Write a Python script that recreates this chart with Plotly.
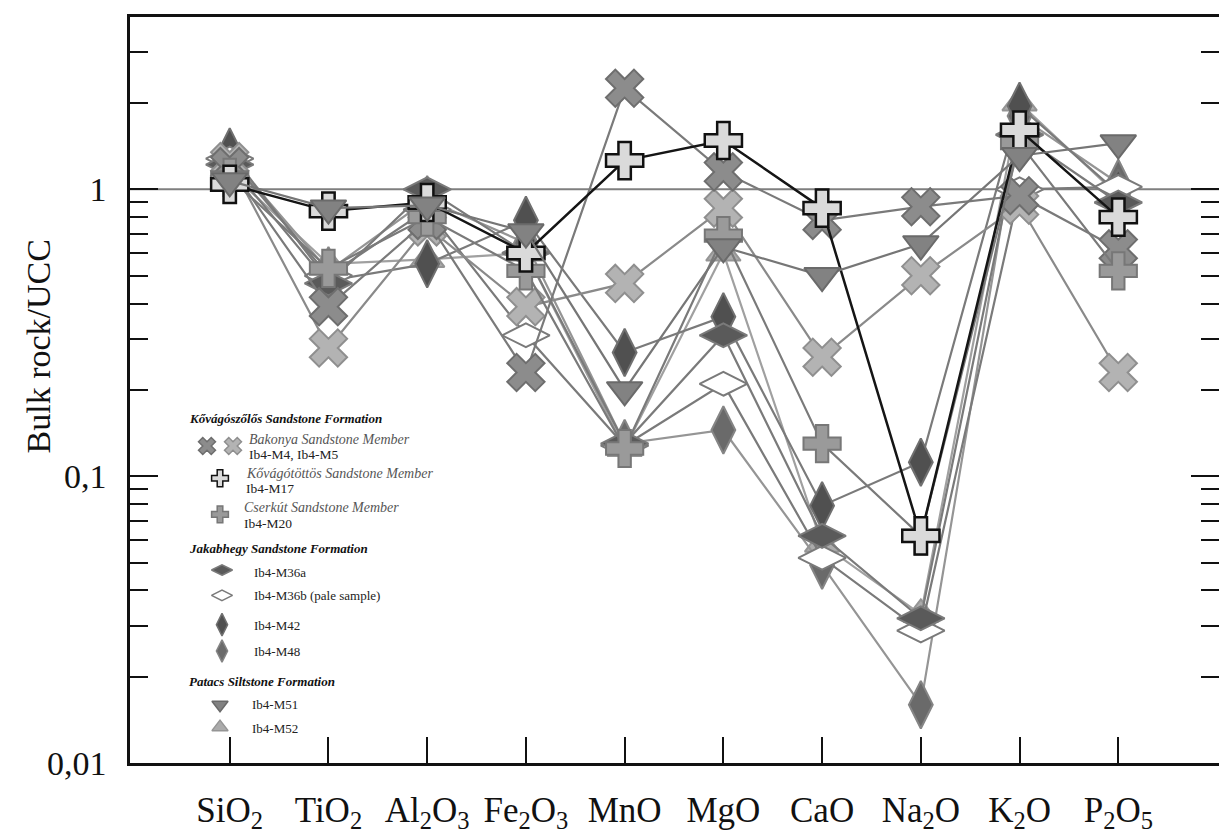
import math
import plotly.graph_objects as go

# ---------------- data ----------------
elements = ["SiO2", "TiO2", "Al2O3", "Fe2O3", "MnO", "MgO", "CaO", "Na2O", "K2O", "P2O5"]
element_labels = ["SiO<sub>2</sub>", "TiO<sub>2</sub>", "Al<sub>2</sub>O<sub>3</sub>",
                  "Fe<sub>2</sub>O<sub>3</sub>", "MnO", "MgO", "CaO",
                  "Na<sub>2</sub>O", "K<sub>2</sub>O", "P<sub>2</sub>O<sub>5</sub>"]

ib4_m4 = [1.20, 0.39, 0.78, 0.23, 2.25, 1.15, 0.78, 0.87, 0.95, 0.62]
ib4_m5 = [1.25, 0.28, 0.74, 0.39, 0.47, 0.86, 0.26, 0.50, 0.88, 0.23]
ib4_m17 = [1.04, 0.84, 0.90, 0.60, 1.26, 1.48, 0.86, 0.062, 1.61, 0.80]
ib4_m20 = [1.10, 0.53, 0.80, 0.52, 0.125, 0.69, 0.13, 0.062, 1.45, 0.52]
ib4_m36a = [1.22, 0.47, 1.00, 0.60, 0.13, 0.31, 0.062, 0.032, 1.55, 0.90]
ib4_m36b = [1.28, 0.50, 0.85, 0.31, 0.128, 0.21, 0.052, 0.029, 1.00, 1.02]
ib4_m42 = [1.35, 0.48, 0.55, 0.78, 0.27, 0.36, 0.079, 0.112, 1.95, 0.97]
ib4_m48 = [1.30, 0.52, 0.92, 0.65, 0.13, 0.145, 0.049, 0.016, 1.80, 1.05]
ib4_m51 = [1.07, 0.86, 0.88, 0.71, 0.20, 0.63, 0.50, 0.645, 1.31, 1.45]
ib4_m52 = [1.15, 0.55, 0.57, 0.60, 0.125, 0.60, 0.058, 0.033, 2.00, 0.95]

y_tickvals = [0.01, 0.1, 1, 4]
y_ticktext = ["0,01", "0,1", "1", "4"]
y_minor = [0.02, 0.03, 0.04, 0.05, 0.06, 0.07, 0.08, 0.09,
           0.2, 0.3, 0.4, 0.5, 0.6, 0.7, 0.8, 0.9, 2, 3]

# ---------------- styles ----------------
FONT = "Liberation Serif"
W, H = 1219, 834
PL, PR, PT, PB = 130, 1219, 17, 782

styles = {
    "M4":  dict(y=ib4_m4,  symbol="x", size=33, fill="#8c8c8c", edge="#6e6e6e", line="#7a7a7a", lw=2.2),
    "M5":  dict(y=ib4_m5,  symbol="x", size=33, fill="#b3b3b3", edge="#8f8f8f", line="#8a8a8a", lw=2.2),
    "M52": dict(y=ib4_m52, symbol="triangle-up", size=30, fill="#ababab", edge="#959595", line="#a0a0a0", lw=2.2),
    "M48": dict(y=ib4_m48, symbol="diamond-tall", size=34, fill="#6a6a6a", edge="#858585", line="#959595", lw=2.2),
    "M42": dict(y=ib4_m42, symbol="diamond-tall", size=34, fill="#505050", edge="#707070", line="#7a7a7a", lw=2.2),
    "M36b": dict(y=ib4_m36b, symbol="diamond-wide", size=34, fill="#ffffff", edge="#7a7a7a", line="#7a7a7a", lw=2.2),
    "M36a": dict(y=ib4_m36a, symbol="diamond-wide", size=34, fill="#5a5a5a", edge="#7a7a7a", line="#7a7a7a", lw=2.2),
    "M20": dict(y=ib4_m20, symbol="cross", size=31, fill="#9a9a9a", edge="#777777", line="#7a7a7a", lw=2.2),
    "M17": dict(y=ib4_m17, symbol="cross", size=31, fill="#dadada", edge="#111111", line="#151515", lw=2.5),
    "M51": dict(y=ib4_m51, symbol="triangle-down", size=31, fill="#828282", edge="#6a6a6a", line="#767676", lw=2.2),
}
order = ["M52", "M48", "M42", "M36b", "M36a", "M5", "M4", "M20", "M17", "M51"]

fig = go.Figure()
for key in order:
    s = styles[key]
    fig.add_trace(go.Scatter(
        x=elements, y=s["y"], mode="lines+markers", name="Ib4-" + key,
        line=dict(color=s["line"], width=s["lw"]),
        marker=dict(symbol=s["symbol"], size=s["size"], color=s["fill"],
                    line=dict(color=s["edge"], width=2.5 if key == "M17" else 2)),
        showlegend=False, xaxis="x", yaxis="y"))

# empty trace for the mirrored right-hand tick axis
fig.add_trace(go.Scatter(x=[], y=[], xaxis="x", yaxis="y3", showlegend=False))

# ---------------- custom legend (pixel overlay axes) ----------------
leg_marks = [
    ("M4", 207, 457, 15), ("M5", 233, 457, 15),
    ("M17", 220, 490, 14), ("M20", 220, 527, 14),
    ("M36a", 222, 584, 15), ("M36b", 222, 610, 15),
    ("M42", 222, 640, 16), ("M48", 222, 667, 16),
    ("M51", 220, 722, 14), ("M52", 220, 745, 14),
]
for key, px, py, sz in leg_marks:
    s = styles[key]
    fig.add_trace(go.Scatter(
        x=[px], y=[py], mode="markers", xaxis="x2", yaxis="y2", showlegend=False,
        marker=dict(symbol=s["symbol"], size=sz, color=s["fill"],
                    line=dict(color=s["edge"], width=1.5)), hoverinfo="skip"))

leg_texts = [
    (187, 429, "<b><i>Kővágószőlős Sandstone Formation</i></b>", 13, "#111"),
    (247, 450, "<i>Bakonya Sandstone Member</i>", 14, "#555"),
    (247, 466, "Ib4-M4, Ib4-M5", 13.5, "#222"),
    (244, 485, "<i>Kővágótöttös Sandstone Member</i>", 14, "#555"),
    (244, 501, "Ib4-M17", 13.5, "#222"),
    (242, 520, "<i>Cserkút Sandstone Member</i>", 14, "#555"),
    (242, 536, "Ib4-M20", 13.5, "#222"),
    (187, 562, "<b><i>Jakabhegy Sandstone Formation</i></b>", 13, "#111"),
    (252, 587, "Ib4-M36a", 13, "#222"),
    (252, 610, "Ib4-M36b (pale sample)", 13, "#222"),
    (252, 641, "Ib4-M42", 13, "#222"),
    (252, 668, "Ib4-M48", 13, "#222"),
    (187, 698, "<b><i>Patacs Siltstone Formation</i></b>", 13, "#111"),
    (250, 722, "Ib4-M51", 13, "#222"),
    (250, 746, "Ib4-M52", 13, "#222"),
]
annotations = []
for px, py, txt, fs, col in leg_texts:
    annotations.append(dict(x=px, y=py, xref="x2", yref="y2", text=txt, showarrow=False,
                            xanchor="left", yanchor="middle",
                            font=dict(family=FONT, size=fs, color=col)))
annotations.append(dict(x=38, y=355, xref="x2", yref="y2", text="Bulk rock/UCC",
                        showarrow=False, textangle=-90, xanchor="center", yanchor="middle",
                        font=dict(family=FONT, size=34, color="#111")))

# ---------------- layout ----------------
xd = [PL / W, PR / W]
yd = [(H - PB) / H, (H - PT) / H]
yrange = [-2, math.log10(4)]

minor_cfg = dict(tickvals=y_minor, ticks="inside", ticklen=18, tickwidth=2, tickcolor="#111")

fig.update_layout(
    width=W, height=H, margin=dict(l=0, r=0, t=0, b=0),
    paper_bgcolor="white", plot_bgcolor="rgba(0,0,0,0)",
    font=dict(family=FONT, color="#111"),
    annotations=annotations,
    xaxis=dict(domain=xd, type="category", range=[-1.01, 10.02],
               tickmode="array", tickvals=elements, ticktext=element_labels,
               ticks="inside", ticklen=26, tickwidth=2.2, tickcolor="#111",
               showline=True, linewidth=2.5, linecolor="#111", mirror=True,
               showgrid=False, zeroline=False, anchor="y",
               tickfont=dict(family=FONT, size=35, color="#111"), ticklabelstandoff=14),
    yaxis=dict(domain=yd, type="log", range=yrange, anchor="x",
               tickmode="array", tickvals=y_tickvals, ticktext=y_ticktext,
               ticks="inside", ticklen=28, tickwidth=2, tickcolor="#111",
               minor=minor_cfg,
               showline=True, linewidth=2.5, linecolor="#111",
               showgrid=False, zeroline=False,
               tickfont=dict(family=FONT, size=34, color="#111"), ticklabelstandoff=14),
    yaxis3=dict(type="log", range=yrange, overlaying="y", side="right", anchor="x",
                tickmode="array", tickvals=y_tickvals, showticklabels=False,
                ticks="inside", ticklen=28, tickwidth=2, tickcolor="#111",
                minor=minor_cfg, showline=False, showgrid=False, zeroline=False),
    xaxis2=dict(domain=[0, 1], range=[0, W], visible=False, anchor="y2", fixedrange=True),
    yaxis2=dict(domain=[0, 1], range=[H, 0], visible=False, anchor="x2", fixedrange=True),
    showlegend=False,
)

# reference line at Bulk rock/UCC = 1
fig.add_shape(type="line", xref="x domain", x0=0, x1=1, yref="y", y0=1, y1=1,
              line=dict(color="#7f7f7f", width=2), layer="below")

fig.write_html("out.html")
